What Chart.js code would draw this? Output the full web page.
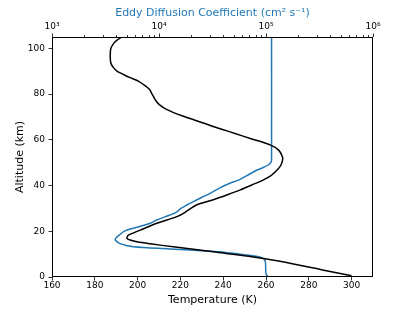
<!DOCTYPE html>
<html><head><meta charset="utf-8">
<script src="https://cdn.jsdelivr.net/npm/chart.js@4.4.0/dist/chart.umd.min.js"></script>
<style>html,body{margin:0;padding:0;background:#fff;}canvas{display:block;}</style>
</head><body>
<canvas id="c" width="415" height="311"></canvas>
<script>
// Temperature profile (K) vs altitude (km)
const tempAltitude = [0.5, 3, 6.9, 8.8, 11.0, 13.2, 14.5, 15.4, 16.2, 16.9, 17.6, 18.3, 20.5, 23.5, 26.4, 28.2, 29.5, 31.5, 33.7, 36, 38.1, 40.5, 42.5, 44.5, 46.9, 49, 51.5, 53, 55.6, 57.8, 60.5, 63, 65.5, 67.4, 70.3, 73.2, 75.5, 77.6, 79.0, 80.5, 82.0, 83.5, 85.6, 87.2, 88.6, 90.0, 91.5, 93.5, 97, 100, 101.8, 103.5, 105];
const temperature  = [300, 287, 266.5, 254.1, 235.4, 216.7, 206, 199.7, 196.5, 195, 195.2, 195.7, 201.2, 209, 218.3, 222, 224, 227.5, 235, 242, 248, 254, 258.8, 262.5, 265.3, 267, 267.8, 267.5, 265.8, 261.9, 253, 244.8, 236.5, 230.7, 221.4, 213.7, 210, 208.2, 207.4, 206.5, 205.6, 203.8, 200.5, 196.5, 193.4, 190.5, 188.8, 187.5, 187.2, 187.5, 188.5, 190.2, 192.5];

// Eddy diffusion coefficient (cm^2 s^-1) vs altitude (km)
const eddyAltitude = [0, 1.5, 6, 7.3, 8.1, 8.8, 9.3, 10, 11, 11.5, 12.3, 13.2, 14.5, 16.2, 17.3, 18.5, 20.2, 22, 23.5, 25, 27, 28.5, 30, 31.5, 33, 35, 36.6, 39, 41, 42.5, 44.5, 46.5, 47.6, 49, 50.5, 52, 105];
const eddyK = [1.05e5, 1.0e5, 9.9e4, 9.77e4, 9.42e4, 8.77e4, 7.5e4, 5.7e4, 3.7e4, 2.5e4, 1.25e4, 5.8e3, 4.4e3, 3.9e3, 4.0e3, 4.3e3, 4.8e3, 6.5e3, 8.3e3, 9.6e3, 1.25e4, 1.47e4, 1.6e4, 1.82e4, 2.1e4, 2.55e4, 3.0e4, 3.7e4, 4.6e4, 5.6e4, 6.7e4, 8.0e4, 9.1e4, 1.05e5, 1.12e5, 1.127e5, 1.127e5];

const tempTicks = [160, 180, 200, 220, 240, 260, 280, 300];
const altTicks = [0, 20, 40, 60, 80, 100];
const eddyTicks = [1e3, 1e4, 1e5, 1e6];
const eddyTickLabels = ['10³', '10⁴', '10⁵', '10⁶'];

const FONT = 'DejaVu Sans';
const BLUE = '#1f77b4';

const framePlugin = {
  id: 'frame',
  afterDraw(chart) {
    const {ctx, chartArea: a} = chart;
    ctx.save();
    ctx.strokeStyle = '#000';
    ctx.lineWidth = 1;
    ctx.strokeRect(Math.round(a.left) + 0.5, Math.round(a.top) + 0.5, Math.round(a.right - a.left) - 1, Math.round(a.bottom - a.top) - 1);
    // minor ticks on the log axis
    const s = chart.scales.x2;
    ctx.beginPath();
    for (let d = 3; d < 6; d++) {
      for (let m = 2; m <= 9; m++) {
        const px = Math.round(s.getPixelForValue(m * Math.pow(10, d))) + 0.5;
        ctx.moveTo(px, Math.round(a.top));
        ctx.lineTo(px, Math.round(a.top) - 2);
      }
    }
    ctx.lineWidth = 0.8;
    ctx.stroke();
    ctx.restore();
  }
};

new Chart(document.getElementById('c'), {
  type: 'line',
  data: {
    datasets: [
      {
        label: 'Temperature',
        data: tempAltitude.map((h, i) => ({x: temperature[i], y: h})),
        xAxisID: 'x', yAxisID: 'y',
        borderColor: '#000', borderWidth: 1.5, pointRadius: 0, tension: 0.3, fill: false
      },
      {
        label: 'Eddy',
        data: eddyAltitude.map((h, i) => ({x: eddyK[i], y: h})),
        xAxisID: 'x2', yAxisID: 'y',
        borderColor: BLUE, borderWidth: 1.5, pointRadius: 0, tension: 0.3, fill: false
      }
    ]
  },
  options: {
    responsive: false,
    animation: false,
    devicePixelRatio: 1,
    layout: {padding: {left: 0, right: 42, top: 0, bottom: 0}},
    plugins: {legend: {display: false}, tooltip: {enabled: false}},
    scales: {
      x: {
        type: 'linear', position: 'bottom', min: 160, max: 310,
        afterBuildTicks: s => { s.ticks = tempTicks.map(v => ({value: v})); },
        afterFit: s => { s.height = 34; },
        border: {display: false},
        grid: {drawOnChartArea: false, drawTicks: true, tickLength: 3.5, tickColor: '#000', tickWidth: 0.8},
        ticks: {color: '#000', font: {family: FONT, size: 9}, padding: 0, maxRotation: 0, autoSkip: false},
        title: {display: true, text: 'Temperature (K)', color: '#000', font: {family: FONT, size: 11}, padding: {top: 0, bottom: 4.4}}
      },
      x2: {
        type: 'logarithmic', position: 'top', min: 1e3, max: 1e6,
        afterBuildTicks: s => { s.ticks = eddyTicks.map(v => ({value: v, major: true})); },
        afterFit: s => { s.height = 37; },
        border: {display: false},
        grid: {drawOnChartArea: false, drawTicks: true, tickLength: 3.5, tickColor: '#000', tickWidth: 0.8},
        ticks: {color: '#000', font: {family: FONT, size: 9}, padding: 1.5, maxRotation: 0, autoSkip: false,
          callback: (v) => { const i = eddyTicks.indexOf(v); return i >= 0 ? eddyTickLabels[i] : ''; }},
        title: {display: true, text: 'Eddy Diffusion Coefficient (cm² s⁻¹)', color: BLUE, font: {family: FONT, size: 11}, padding: {top: 6.7, bottom: 0}}
      },
      y: {
        type: 'linear', position: 'left', min: 0, max: 105,
        afterBuildTicks: s => { s.ticks = altTicks.map(v => ({value: v})); },
        afterFit: s => { s.width = 52; },
        border: {display: false},
        grid: {drawOnChartArea: false, drawTicks: true, tickLength: 3.5, tickColor: '#000', tickWidth: 0.8},
        ticks: {color: '#000', font: {family: FONT, size: 9}, padding: 3.5},
        title: {display: true, text: 'Altitude (km)', color: '#000', font: {family: FONT, size: 11}, padding: {top: 13.4, bottom: 0}}
      }
    }
  },
  plugins: [framePlugin]
});
</script>
</body></html>
